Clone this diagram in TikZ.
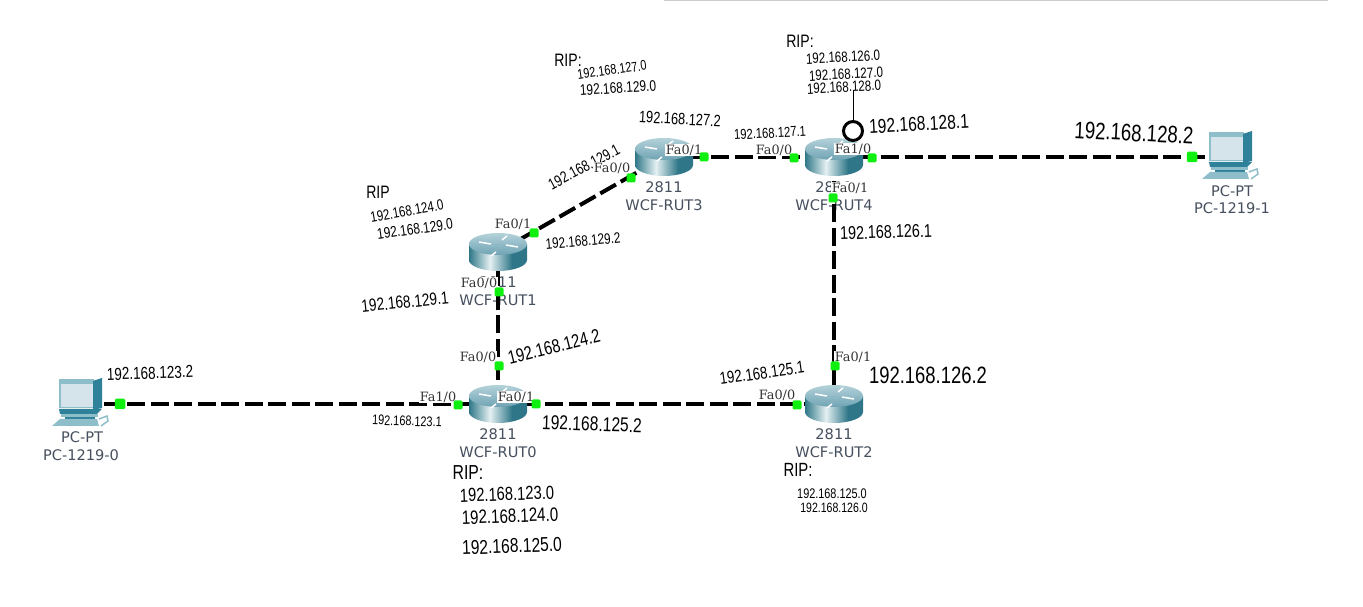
\documentclass[tikz,border=0pt]{standalone}
\usepackage{fontspec}
\setsansfont{DejaVu Sans}
\newfontfamily\portfont{DejaVu Serif}
\newfontfamily\handfont[FakeStretch=.78]{Liberation Sans}
\usetikzlibrary{shapes.geometric}

\definecolor{rtdark}{HTML}{2F7788}
\definecolor{rtlight}{HTML}{E4F0F2}
\definecolor{rttop}{HTML}{B4D2DA}
\definecolor{rttopb}{HTML}{6FA3B3}
\definecolor{pcdark}{HTML}{2F8099}
\definecolor{pcmid}{HTML}{8FBECB}
\definecolor{pcscreen}{HTML}{D5E4EA}
\definecolor{linkgreen}{HTML}{10F010}
\definecolor{devtext}{HTML}{46505E}

\pgfdeclarehorizontalshading{routerbody}{100bp}{color(0bp)=(rtdark); color(25bp)=(rtdark); color(43bp)=(rtlight); color(62bp)=(rtdark); color(100bp)=(rtdark)}

\tikzset{
  rbox/.style={inner sep=0pt, minimum size=0pt},
  devlabel/.style={font=\sffamily\fontsize{8.3}{9}\selectfont, text=devtext, inner sep=0pt},
  portlabel/.style={font=\portfont\fontsize{7.3}{8}\selectfont, text=black!80, fill=white, inner sep=.6pt},
  linkline/.style={line width=.08cm, dash pattern=on .36cm off .11cm},
  light/.style={fill=linkgreen, rounded corners=.8pt, inner sep=0pt, minimum size=.18cm},
  router/.pic={
    \shade[shading=routerbody] (-29,-8) -- (-29,8) .. controls (-29,14) and (-16,19) .. (0,19) .. controls (16,19) and (29,14) .. (29,8) -- (29,-8) -- cycle;
    \shade[top color=rttop, bottom color=rttopb] (0,-8) ellipse (29 and 11);
    \draw[white, line width=.03cm] (-19,-10)--(-7,-8) (-7,4)--(-2,0) (4,-12)--(9,-16) (8,-7)--(20,-5);
  },
  pc/.pic={
    \fill[pcmid] (-21,-25)--(14,-25)--(14,4)--(-21,4)--cycle;
    \fill[pcdark] (13,-23)--(22,-26)--(22,4)--(13,6)--cycle;
    \fill[pcscreen] (-19,-20) rectangle (13,3);
    \fill[pcdark] (-21,5)--(22,5)--(17,10)--(-20,10)--cycle;
    \fill[pcmid] (-19,10)--(18,10)--(18,13)--(-19,13)--cycle;
    \fill[pcdark] (-15,13)--(15,13)--(15,15)--(-15,15)--cycle;
    \fill[pcmid] (-20,15)--(17,15)--(19,22)--(-28,22)--cycle;
    \draw[pcmid, line width=.03cm] (19,15)--(27,12)--(28,17)--(21,22);
  },
}

\begin{document}
\begin{tikzpicture}[x=.02cm, y=-.02cm]
\fill[white] (0,0) rectangle (1363,607);
\useasboundingbox (0,0) rectangle (1363,607);
\draw[black!20, line width=.05cm] (664,0)--(1328,0);

\foreach \n/\x/\y/\lab in {rut0/498/404/WCF-RUT0, rut1/498/252/WCF-RUT1, rut2/834/404/WCF-RUT2, rut3/664/157/WCF-RUT3, rut4/834/157/WCF-RUT4}{
 \node[rbox] (\n) at (\x,\y) {};
 \node[devlabel] (\n model) at (\x,{\y+30.5}) {2811};
 \node[devlabel] (\n name) at (\x,{\y+48}) {\lab};
}
\node[rbox] (pc0) at (80,404) {};
\node[rbox] (pc1) at (1230,157) {};
\node[devlabel] (pc0model) at (82,437) {PC-PT};
\node[devlabel] (pc0name) at (81,455) {PC-1219-0};
\node[devlabel] (pc1model) at (1232,191) {PC-PT};
\node[devlabel] (pc1name) at (1232,208) {PC-1219-1};

\foreach \a/\b in {pc0/rut0, rut0/rut2, rut0/rut1, rut1/rut3, rut3/rut4, rut4/rut2, rut4/pc1}{
 \draw[linkline] (\a) -- (\b);
}

\foreach \n in {rut0, rut1, rut2, rut3, rut4}{
 \pic at (\n) {router};
}
\pic at (pc0) {pc};
\pic at (pc1) {pc};

\foreach \x/\y/\a/\w/\lab [count=\i] in {
 150/373/2/7.7/192.168.123.2, 407/421/-2/6.2/192.168.123.1, 592/424/-2/8.9/192.168.125.2,
 554/347/14/8.4/192.168.124.2, 405/302/6/7.8/192.168.129.1, 583/241/5/6.7/192.168.129.2,
 584/167/28/7/192.168.129.1, 680/119/-3/7.3/192.168.127.2, 770/133/3/6.4/192.168.127.1,
 919/124/3/8.9/192.168.128.1, 1134/133/-3/10.6/192.168.128.2, 886/232/2/8.2/192.168.126.1,
 928/375/0/10.5/192.168.126.2, 762/373/8/7.6/192.168.125.1,
 378/192/0/8/RIP, 407/211/10/6.6/192.168.124.0, 415/229/8/6.8/192.168.129.0,
 568/60/0/8/RIP:, 612/70/8/6.2/192.168.127.0, 618/88/4/6.8/192.168.129.0,
 800/41/0/8/RIP:, 843/57/3/6.6/192.168.126.0, 846/74/3/6.6/192.168.127.0, 844/87/3/6.6/192.168.128.0,
 468/473/0/9/RIP:, 507/494/2/8.4/192.168.123.0, 510/516/2/8.6/192.168.124.0, 512/546/2/8.9/192.168.125.0,
 798/470/0/8.5/RIP:, 832/494/0/6.2/192.168.125.0, 834/508/0/6/192.168.126.0}{
 \pgfmathsetmacro\fs{\w*1.28}
 \node[font=\handfont\fontsize{\fs}{\fs}\selectfont, inner sep=0pt, rotate=\a] (hand\i) at (\x,\y) {\lab};
}

\foreach \x/\y/\lab [count=\i] in {
 438/397/Fa1\slash 0, 516/397/Fa0\slash 1, 478/357/Fa0\slash 0, 479/283/Fa0\slash 0, 513/224/Fa0\slash 1,
 612/168/Fa0\slash 0, 684/150/Fa0\slash 1, 774/150/Fa0\slash 0, 853/149/Fa1\slash 0, 850/188/Fa0\slash 1,
 777/395/Fa0\slash 0, 853/357/Fa0\slash 1}{
 \node[portlabel] (port\i) at (\x,\y) {\lab};
}

\foreach \x/\y [count=\i] in {458/405, 536/404, 499/366, 499/292, 534/233, 631/178, 704/157, 794/158, 872/158, 833/198, 797/405, 835/366}{
 \node[light] (lamp\i) at (\x,\y) {};
}
\node[light, minimum size=.21cm] (lamppc0) at (120,404) {};
\node[light, minimum size=.21cm] (lamppc1) at (1192,157) {};

\node[circle, draw, line width=.06cm, minimum size=.38cm, inner sep=0pt] (probe) at (853,131) {};
\coordinate (probetop) at (853,90);
\draw[line width=.02cm] (probe) -- (probetop);
\end{tikzpicture}
\end{document}
